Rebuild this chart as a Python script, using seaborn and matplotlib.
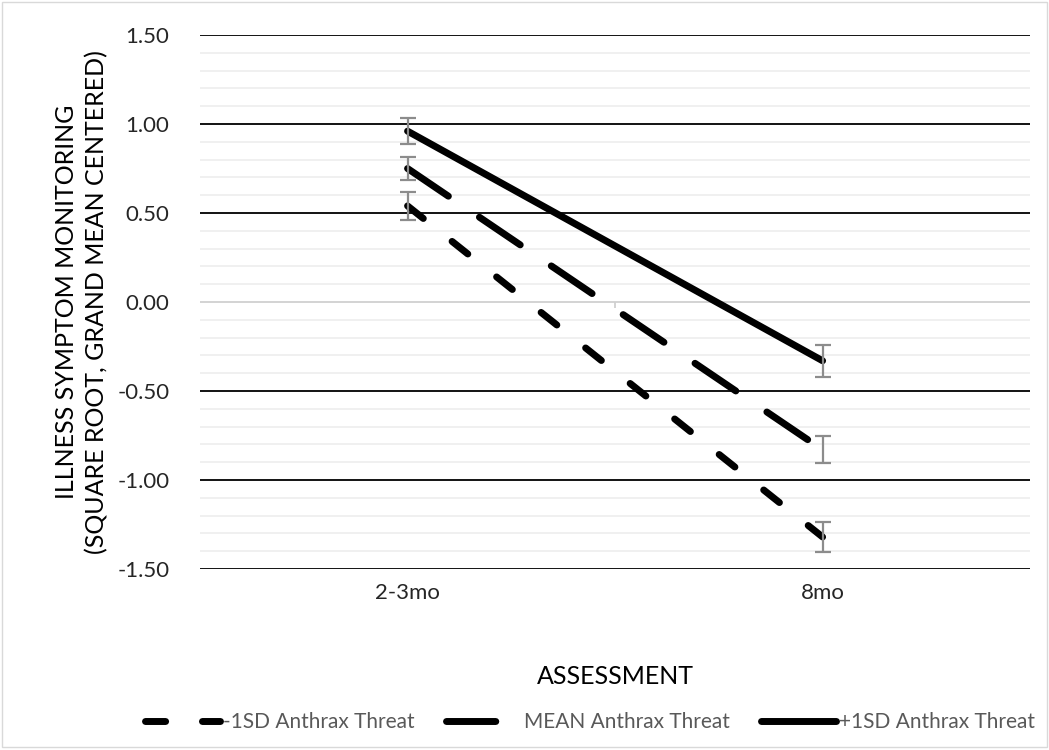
import matplotlib
matplotlib.use("Agg")
import matplotlib.pyplot as plt
import matplotlib.patches as mpatches
import seaborn as sns
import pandas as pd
import numpy as np

# data
assessments = ["2-3mo", "8mo"]
series_names = ["-1SD Anthrax Threat", "MEAN Anthrax Threat", "+1SD Anthrax Threat"]
low_vals = [0.54, -1.32]
mean_vals = [0.75, -0.83]
high_vals = [0.96, -0.33]
low_err = [0.08, 0.085]
mean_err = [0.065, 0.075]
high_err = [0.072, 0.09]

x_pos = list(range(len(assessments)))
df = pd.DataFrame({
    "x": x_pos * 3,
    "value": low_vals + mean_vals + high_vals,
    "series": [s for s in series_names for _ in assessments],
})

sns.set_style("white")
plt.rcParams["font.family"] = ["Lato", "DejaVu Sans"]

fig = plt.figure(figsize=(10.49, 7.5), dpi=100)
ax = fig.add_axes([0.1907, 0.2413, 0.7913, 0.712])

dash_map = {
    series_names[0]: (2.9, 5.3),
    series_names[1]: (7.1, 5.4),
    series_names[2]: "",
}
sns.lineplot(data=df, x="x", y="value", hue="series", style="series",
             dashes=dash_map, palette=["black"] * 3, linewidth=5,
             ax=ax, legend=False, zorder=4)
for ln in ax.lines:
    ln.set_dash_capstyle("round")
    ln.set_solid_capstyle("round")

# error bars
for vals, errs in [(low_vals, low_err), (mean_vals, mean_err), (high_vals, high_err)]:
    ax.errorbar(x_pos, vals, yerr=errs, fmt="none", ecolor="#8c8c8c",
                elinewidth=1.6, capsize=5.5, capthick=1.6, zorder=5)

ax.set_xlim(-0.5, len(assessments) - 0.5)
ax.set_ylim(-1.5, 1.5)
ax.set_xticks(x_pos)
ax.set_xticklabels(assessments)
yt = np.arange(-1.5, 1.51, 0.5)
ax.set_yticks(yt)
ax.set_yticklabels([f"{v:.2f}" for v in yt])
ax.set_yticks(np.arange(-1.5, 1.51, 0.1), minor=True)

ax.yaxis.grid(True, which="major", color="black", linewidth=1.3)
ax.yaxis.grid(True, which="minor", color="#ececec", linewidth=1.1)
ax.xaxis.grid(False)
ax.set_axisbelow(True)
for t in ax.yaxis.get_major_ticks():
    if abs(t.get_loc()) < 1e-9:
        t.gridline.set_color("#d0d0d0")
        t.gridline.set_linewidth(1.3)

for sp in ax.spines.values():
    sp.set_visible(False)
ax.tick_params(axis="both", which="both", length=0, labelsize=16, colors="#262626")
ax.tick_params(axis="y", pad=22)
ax.tick_params(axis="x", pad=10)

# category boundary tick on the horizontal axis
ax.vlines([0.5], -0.035, 0, color="#d0d0d0", linewidth=1.3, zorder=2)

ax.set_xlabel("ASSESSMENT", fontsize=18, color="black")
ax.xaxis.set_label_coords(0.5, -0.18)
ax.set_ylabel("ILLNESS SYMPTOM MONITORING\n(SQUARE ROOT, GRAND MEAN CENTERED)",
              fontsize=18, color="black", linespacing=1.4)
ax.yaxis.set_label_coords(-0.11, 0.5)

# legend
handles = []
for name in series_names:
    h, = ax.plot([], [], color="black", linewidth=5)
    if dash_map[name]:
        h.set_dashes(dash_map[name])
    h.set_dash_capstyle("round")
    h.set_solid_capstyle("round")
    h.set_label(name)
    handles.append(h)
fig.legend(handles=handles, loc="center", bbox_to_anchor=(0.5625, 0.037),
           ncol=3, frameon=False, fontsize=15, handlelength=3.6,
           columnspacing=1.5, handletextpad=0.15, labelcolor="#595959")

# chart area border
fig.patches.append(mpatches.Rectangle((0.002, 0.004), 0.996, 0.993,
                                      transform=fig.transFigure, fill=False,
                                      edgecolor="#d9d9d9", linewidth=1))

fig.savefig("out.png", dpi=100)
